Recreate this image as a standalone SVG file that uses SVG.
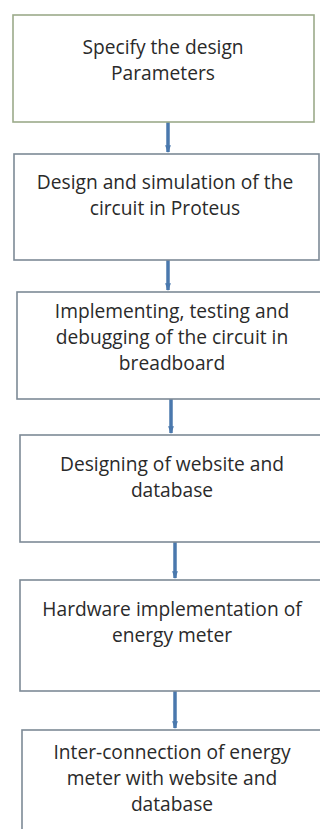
<svg xmlns="http://www.w3.org/2000/svg" width="320" height="829" viewBox="0 0 320 829">
  <style>
    .box { fill: #ffffff; stroke: #7d8a96; stroke-width: 1.6; }
    .box.first { stroke: #9cab8a; }
    .label { font-family: "Open Sans", "Liberation Sans", sans-serif; font-size: 19.2px; fill: #2a2a2a; text-anchor: middle; }
    .flow { stroke: #4a78ad; stroke-width: 3.5; fill: none; }
  </style>
  <defs>
    <marker id="head" viewBox="0 0 8 6" refX="7" refY="3" markerWidth="2.2" markerHeight="1.8" orient="auto" markerUnits="strokeWidth">
      <path d="M0,0 L8,3 L0,6 Z" fill="#4a78ad"/>
    </marker>
  </defs>
  <rect width="320" height="829" fill="#ffffff"/>

  <g id="connectors">
    <line class="flow" x1="168" y1="122" x2="168" y2="152" marker-end="url(#head)"/>
    <line class="flow" x1="168" y1="260" x2="168" y2="290" marker-end="url(#head)"/>
    <line class="flow" x1="171" y1="399" x2="171" y2="433" marker-end="url(#head)"/>
    <line class="flow" x1="175" y1="542" x2="175" y2="578" marker-end="url(#head)"/>
    <line class="flow" x1="175" y1="691" x2="175" y2="728" marker-end="url(#head)"/>
  </g>

  <g id="step1">
    <rect class="box first" x="13" y="15" width="301" height="107"/>
    <text class="label" x="163" y="54">Specify the design</text>
    <text class="label" x="163" y="80">Parameters</text>
  </g>

  <g id="step2">
    <rect class="box" x="14" y="154" width="305" height="106"/>
    <text class="label" x="165" y="189">Design and simulation of the</text>
    <text class="label" x="165" y="215">circuit in Proteus</text>
  </g>

  <g id="step3">
    <rect class="box" x="17" y="292" width="310" height="107"/>
    <text class="label" x="172" y="318">Implementing, testing and</text>
    <text class="label" x="172" y="344">debugging of the circuit in</text>
    <text class="label" x="172" y="370">breadboard</text>
  </g>

  <g id="step4">
    <rect class="box" x="20" y="435" width="310" height="107"/>
    <text class="label" x="172" y="471">Designing of website and</text>
    <text class="label" x="172" y="497">database</text>
  </g>

  <g id="step5">
    <rect class="box" x="20" y="580" width="310" height="111"/>
    <text class="label" x="172" y="616">Hardware implementation of</text>
    <text class="label" x="172" y="642">energy meter</text>
  </g>

  <g id="step6">
    <rect class="box" x="22" y="730" width="310" height="120"/>
    <text class="label" x="172" y="759">Inter-connection of energy</text>
    <text class="label" x="172" y="785">meter with website and</text>
    <text class="label" x="172" y="811">database</text>
  </g>
</svg>
